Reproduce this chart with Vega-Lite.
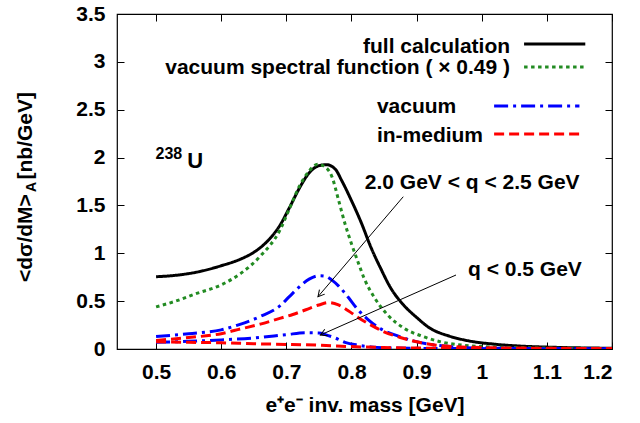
{
  "$schema": "https://vega.github.io/schema/vega-lite/v6.json",
  "width": 495,
  "height": 335,
  "autosize": "none",
  "padding": {"left": 117, "top": 14, "right": 28, "bottom": 74},
  "background": "white",
  "config": {
    "view": {"stroke": "black", "strokeWidth": 1.2},
    "font": "Liberation Sans",
    "axis": {
      "labelFont": "Liberation Sans", "labelFontSize": 21, "labelFontWeight": "bold", "labelColor": "black",
      "titleFont": "Liberation Sans", "titleFontSize": 21, "titleFontWeight": "bold", "titleColor": "black",
      "domain": false, "grid": false, "tickColor": "black", "tickSize": -7, "tickWidth": 1
    },
    "text": {"font": "Liberation Sans", "fontWeight": "bold", "fontSize": 21, "color": "black"}
  },
  "datasets": {
    "curves": [
      {"curve": "a_full", "series": "full", "m": 0.50, "s": 0.755},
      {"curve": "a_full", "series": "full", "m": 0.53, "s": 0.77},
      {"curve": "a_full", "series": "full", "m": 0.56, "s": 0.80},
      {"curve": "a_full", "series": "full", "m": 0.60, "s": 0.87},
      {"curve": "a_full", "series": "full", "m": 0.63, "s": 0.94},
      {"curve": "a_full", "series": "full", "m": 0.65, "s": 1.01},
      {"curve": "a_full", "series": "full", "m": 0.67, "s": 1.12},
      {"curve": "a_full", "series": "full", "m": 0.69, "s": 1.29},
      {"curve": "a_full", "series": "full", "m": 0.705, "s": 1.48},
      {"curve": "a_full", "series": "full", "m": 0.72, "s": 1.68},
      {"curve": "a_full", "series": "full", "m": 0.735, "s": 1.84},
      {"curve": "a_full", "series": "full", "m": 0.75, "s": 1.915},
      {"curve": "a_full", "series": "full", "m": 0.762, "s": 1.925},
      {"curve": "a_full", "series": "full", "m": 0.775, "s": 1.88},
      {"curve": "a_full", "series": "full", "m": 0.785, "s": 1.76},
      {"curve": "a_full", "series": "full", "m": 0.80, "s": 1.55},
      {"curve": "a_full", "series": "full", "m": 0.815, "s": 1.32},
      {"curve": "a_full", "series": "full", "m": 0.83, "s": 1.06},
      {"curve": "a_full", "series": "full", "m": 0.845, "s": 0.84},
      {"curve": "a_full", "series": "full", "m": 0.86, "s": 0.64},
      {"curve": "a_full", "series": "full", "m": 0.88, "s": 0.46},
      {"curve": "a_full", "series": "full", "m": 0.90, "s": 0.33},
      {"curve": "a_full", "series": "full", "m": 0.92, "s": 0.22},
      {"curve": "a_full", "series": "full", "m": 0.95, "s": 0.135},
      {"curve": "a_full", "series": "full", "m": 0.98, "s": 0.085},
      {"curve": "a_full", "series": "full", "m": 1.02, "s": 0.05},
      {"curve": "a_full", "series": "full", "m": 1.06, "s": 0.03},
      {"curve": "a_full", "series": "full", "m": 1.10, "s": 0.02},
      {"curve": "a_full", "series": "full", "m": 1.15, "s": 0.012},
      {"curve": "a_full", "series": "full", "m": 1.20, "s": 0.008},

      {"curve": "b_spec", "series": "spectral", "m": 0.50, "s": 0.44},
      {"curve": "b_spec", "series": "spectral", "m": 0.53, "s": 0.50},
      {"curve": "b_spec", "series": "spectral", "m": 0.56, "s": 0.575},
      {"curve": "b_spec", "series": "spectral", "m": 0.60, "s": 0.67},
      {"curve": "b_spec", "series": "spectral", "m": 0.63, "s": 0.79},
      {"curve": "b_spec", "series": "spectral", "m": 0.66, "s": 0.97},
      {"curve": "b_spec", "series": "spectral", "m": 0.69, "s": 1.24},
      {"curve": "b_spec", "series": "spectral", "m": 0.705, "s": 1.47},
      {"curve": "b_spec", "series": "spectral", "m": 0.72, "s": 1.70},
      {"curve": "b_spec", "series": "spectral", "m": 0.735, "s": 1.86},
      {"curve": "b_spec", "series": "spectral", "m": 0.748, "s": 1.93},
      {"curve": "b_spec", "series": "spectral", "m": 0.76, "s": 1.90},
      {"curve": "b_spec", "series": "spectral", "m": 0.77, "s": 1.80},
      {"curve": "b_spec", "series": "spectral", "m": 0.78, "s": 1.56},
      {"curve": "b_spec", "series": "spectral", "m": 0.79, "s": 1.31},
      {"curve": "b_spec", "series": "spectral", "m": 0.80, "s": 1.10},
      {"curve": "b_spec", "series": "spectral", "m": 0.81, "s": 0.91},
      {"curve": "b_spec", "series": "spectral", "m": 0.82, "s": 0.73},
      {"curve": "b_spec", "series": "spectral", "m": 0.835, "s": 0.54},
      {"curve": "b_spec", "series": "spectral", "m": 0.855, "s": 0.36},
      {"curve": "b_spec", "series": "spectral", "m": 0.88, "s": 0.22},
      {"curve": "b_spec", "series": "spectral", "m": 0.91, "s": 0.13},
      {"curve": "b_spec", "series": "spectral", "m": 0.94, "s": 0.07},
      {"curve": "b_spec", "series": "spectral", "m": 0.97, "s": 0.04},
      {"curve": "b_spec", "series": "spectral", "m": 1.00, "s": 0.025},
      {"curve": "b_spec", "series": "spectral", "m": 1.05, "s": 0.015},
      {"curve": "b_spec", "series": "spectral", "m": 1.10, "s": 0.01},
      {"curve": "b_spec", "series": "spectral", "m": 1.20, "s": 0.005},

      {"curve": "c_vac_hi", "series": "vacuum", "m": 0.50, "s": 0.13},
      {"curve": "c_vac_hi", "series": "vacuum", "m": 0.55, "s": 0.16},
      {"curve": "c_vac_hi", "series": "vacuum", "m": 0.60, "s": 0.20},
      {"curve": "c_vac_hi", "series": "vacuum", "m": 0.63, "s": 0.26},
      {"curve": "c_vac_hi", "series": "vacuum", "m": 0.66, "s": 0.34},
      {"curve": "c_vac_hi", "series": "vacuum", "m": 0.69, "s": 0.45},
      {"curve": "c_vac_hi", "series": "vacuum", "m": 0.705, "s": 0.55},
      {"curve": "c_vac_hi", "series": "vacuum", "m": 0.72, "s": 0.65},
      {"curve": "c_vac_hi", "series": "vacuum", "m": 0.735, "s": 0.73},
      {"curve": "c_vac_hi", "series": "vacuum", "m": 0.75, "s": 0.765},
      {"curve": "c_vac_hi", "series": "vacuum", "m": 0.76, "s": 0.76},
      {"curve": "c_vac_hi", "series": "vacuum", "m": 0.77, "s": 0.72},
      {"curve": "c_vac_hi", "series": "vacuum", "m": 0.78, "s": 0.66},
      {"curve": "c_vac_hi", "series": "vacuum", "m": 0.795, "s": 0.54},
      {"curve": "c_vac_hi", "series": "vacuum", "m": 0.81, "s": 0.41},
      {"curve": "c_vac_hi", "series": "vacuum", "m": 0.825, "s": 0.31},
      {"curve": "c_vac_hi", "series": "vacuum", "m": 0.845, "s": 0.21},
      {"curve": "c_vac_hi", "series": "vacuum", "m": 0.87, "s": 0.14},
      {"curve": "c_vac_hi", "series": "vacuum", "m": 0.895, "s": 0.085},
      {"curve": "c_vac_hi", "series": "vacuum", "m": 0.92, "s": 0.05},
      {"curve": "c_vac_hi", "series": "vacuum", "m": 0.95, "s": 0.025},
      {"curve": "c_vac_hi", "series": "vacuum", "m": 1.00, "s": 0.01},
      {"curve": "c_vac_hi", "series": "vacuum", "m": 1.10, "s": 0.005},
      {"curve": "c_vac_hi", "series": "vacuum", "m": 1.20, "s": 0.003},

      {"curve": "c_vac_lo", "series": "vacuum", "m": 0.50, "s": 0.07},
      {"curve": "c_vac_lo", "series": "vacuum", "m": 0.55, "s": 0.08},
      {"curve": "c_vac_lo", "series": "vacuum", "m": 0.60, "s": 0.095},
      {"curve": "c_vac_lo", "series": "vacuum", "m": 0.65, "s": 0.115},
      {"curve": "c_vac_lo", "series": "vacuum", "m": 0.70, "s": 0.15},
      {"curve": "c_vac_lo", "series": "vacuum", "m": 0.73, "s": 0.17},
      {"curve": "c_vac_lo", "series": "vacuum", "m": 0.75, "s": 0.168},
      {"curve": "c_vac_lo", "series": "vacuum", "m": 0.76, "s": 0.15},
      {"curve": "c_vac_lo", "series": "vacuum", "m": 0.775, "s": 0.115},
      {"curve": "c_vac_lo", "series": "vacuum", "m": 0.79, "s": 0.07},
      {"curve": "c_vac_lo", "series": "vacuum", "m": 0.81, "s": 0.04},
      {"curve": "c_vac_lo", "series": "vacuum", "m": 0.83, "s": 0.022},
      {"curve": "c_vac_lo", "series": "vacuum", "m": 0.87, "s": 0.01},
      {"curve": "c_vac_lo", "series": "vacuum", "m": 0.95, "s": 0.005},
      {"curve": "c_vac_lo", "series": "vacuum", "m": 1.20, "s": 0.002},

      {"curve": "d_med_hi", "series": "in-medium", "m": 0.50, "s": 0.09},
      {"curve": "d_med_hi", "series": "in-medium", "m": 0.55, "s": 0.12},
      {"curve": "d_med_hi", "series": "in-medium", "m": 0.60, "s": 0.16},
      {"curve": "d_med_hi", "series": "in-medium", "m": 0.63, "s": 0.21},
      {"curve": "d_med_hi", "series": "in-medium", "m": 0.66, "s": 0.26},
      {"curve": "d_med_hi", "series": "in-medium", "m": 0.69, "s": 0.32},
      {"curve": "d_med_hi", "series": "in-medium", "m": 0.71, "s": 0.36},
      {"curve": "d_med_hi", "series": "in-medium", "m": 0.73, "s": 0.41},
      {"curve": "d_med_hi", "series": "in-medium", "m": 0.75, "s": 0.46},
      {"curve": "d_med_hi", "series": "in-medium", "m": 0.765, "s": 0.485},
      {"curve": "d_med_hi", "series": "in-medium", "m": 0.78, "s": 0.46},
      {"curve": "d_med_hi", "series": "in-medium", "m": 0.795, "s": 0.40},
      {"curve": "d_med_hi", "series": "in-medium", "m": 0.81, "s": 0.33},
      {"curve": "d_med_hi", "series": "in-medium", "m": 0.83, "s": 0.25},
      {"curve": "d_med_hi", "series": "in-medium", "m": 0.85, "s": 0.18},
      {"curve": "d_med_hi", "series": "in-medium", "m": 0.875, "s": 0.12},
      {"curve": "d_med_hi", "series": "in-medium", "m": 0.90, "s": 0.075},
      {"curve": "d_med_hi", "series": "in-medium", "m": 0.93, "s": 0.04},
      {"curve": "d_med_hi", "series": "in-medium", "m": 0.96, "s": 0.025},
      {"curve": "d_med_hi", "series": "in-medium", "m": 1.00, "s": 0.015},
      {"curve": "d_med_hi", "series": "in-medium", "m": 1.10, "s": 0.008},
      {"curve": "d_med_hi", "series": "in-medium", "m": 1.20, "s": 0.005},

      {"curve": "d_med_lo", "series": "in-medium", "m": 0.50, "s": 0.075},
      {"curve": "d_med_lo", "series": "in-medium", "m": 0.55, "s": 0.07},
      {"curve": "d_med_lo", "series": "in-medium", "m": 0.60, "s": 0.065},
      {"curve": "d_med_lo", "series": "in-medium", "m": 0.65, "s": 0.055},
      {"curve": "d_med_lo", "series": "in-medium", "m": 0.70, "s": 0.048},
      {"curve": "d_med_lo", "series": "in-medium", "m": 0.75, "s": 0.04},
      {"curve": "d_med_lo", "series": "in-medium", "m": 0.80, "s": 0.025},
      {"curve": "d_med_lo", "series": "in-medium", "m": 0.85, "s": 0.015},
      {"curve": "d_med_lo", "series": "in-medium", "m": 0.90, "s": 0.01},
      {"curve": "d_med_lo", "series": "in-medium", "m": 1.00, "s": 0.006},
      {"curve": "d_med_lo", "series": "in-medium", "m": 1.20, "s": 0.003}
    ],
    "legend": [
      {"series": "full", "label": "full calculation", "block": 1, "tx": 1.0435, "ty": 3.096, "x1": 1.065, "x2": 1.159, "ly": 3.187},
      {"series": "spectral", "label": "vacuum spectral function ( × 0.49 )", "block": 1, "tx": 1.0435, "ty": 2.87, "x1": 1.065, "x2": 1.159, "ly": 2.947},
      {"series": "vacuum", "label": "vacuum", "block": 2, "tx": 0.839, "ty": 2.463, "x1": 1.019, "x2": 1.150, "ly": 2.539},
      {"series": "in-medium", "label": "in-medium", "block": 2, "tx": 0.839, "ty": 2.166, "x1": 1.019, "x2": 1.150, "ly": 2.247}
    ],
    "notes": [
      {"label": "2.0 GeV < q < 2.5 GeV", "x": 0.8205, "y": 1.67},
      {"label": "q < 0.5 GeV", "x": 0.979, "y": 0.767}
    ],
    "arrows": [
      {"id": 1, "x": 0.8795, "y": 1.591, "x2": 0.7486, "y2": 0.5465},
      {"id": 2, "x": 0.9605, "y": 0.773, "x2": 0.7523, "y2": 0.146}
    ],
    "ytitle": [
      {"part": "main", "text": "<dσ/dM>", "x": 0.3089, "y": 0.70},
      {"part": "sub", "text": "A", "x": 0.3158, "y": 1.64},
      {"part": "unit", "text": "[nb/GeV]", "x": 0.3089, "y": 2.685}
    ]
  },
  "layer": [
    {
      "data": {"name": "curves"},
      "mark": {"type": "line", "strokeWidth": 3, "strokeCap": "butt", "clip": true, "interpolate": "monotone"},
      "encoding": {
        "x": {"field": "m", "type": "quantitative", "scale": {"domain": [0.44, 1.2], "nice": false, "zero": false},
              "axis": {"orient": "bottom", "values": [0.5, 0.6, 0.7, 0.8, 0.9, 1.0, 1.1, 1.2], "format": "~g", "labelPadding": 19, "title": "e⁺e⁻ inv. mass [GeV]", "titlePadding": 12}},
        "y": {"field": "s", "type": "quantitative", "scale": {"domain": [0, 3.5], "nice": false, "zero": false},
              "axis": {"orient": "left", "values": [0, 0.5, 1, 1.5, 2, 2.5, 3, 3.5], "format": "~g", "labelPadding": 19, "title": null}},
        "detail": {"field": "curve"},
        "color": {"field": "series", "type": "nominal", "scale": {"domain": ["full", "spectral", "vacuum", "in-medium"], "range": ["#000000", "#228B22", "#0000FF", "#FF0000"]}, "legend": null},
        "strokeDash": {"field": "series", "type": "nominal", "scale": {"domain": ["full", "spectral", "vacuum", "in-medium"], "range": [[1, 0], [3.5, 3.5], [14, 5, 3, 5], [10, 5]]}, "legend": null},
        "order": {"field": "m", "type": "quantitative"}
      }
    },
    {
      "data": {"name": "arrows"},
      "mark": {"type": "rule", "color": "black", "strokeWidth": 1},
      "encoding": {
        "x": {"field": "x", "type": "quantitative", "scale": {"domain": [0.44, 1.2], "nice": false, "zero": false},
              "axis": {"orient": "top", "values": [0.5, 0.6, 0.7, 0.8, 0.9, 1.0, 1.1, 1.2], "labels": false, "title": null}},
        "y": {"field": "y", "type": "quantitative", "scale": {"domain": [0, 3.5], "nice": false, "zero": false},
              "axis": {"orient": "right", "values": [0, 0.5, 1, 1.5, 2, 2.5, 3, 3.5], "labels": false, "title": null}},
        "x2": {"field": "x2"},
        "y2": {"field": "y2"}
      }
    },
    {
      "data": {"name": "arrows"},
      "transform": [{"filter": "datum.id == 1"}],
      "mark": {"type": "point", "shape": "M -1 -0.55 L 0 0 L -1 0.55", "filled": false, "stroke": "black", "strokeWidth": 1, "size": 160, "angle": 130.4, "opacity": 1},
      "encoding": {
        "x": {"field": "x2", "type": "quantitative", "scale": {"domain": [0.44, 1.2], "nice": false, "zero": false}, "axis": null},
        "y": {"field": "y2", "type": "quantitative", "scale": {"domain": [0, 3.5], "nice": false, "zero": false}, "axis": null}
      }
    },
    {
      "data": {"name": "arrows"},
      "transform": [{"filter": "datum.id == 2"}],
      "mark": {"type": "point", "shape": "M -1 -0.55 L 0 0 L -1 0.55", "filled": false, "stroke": "black", "strokeWidth": 1, "size": 160, "angle": 156.1, "opacity": 1},
      "encoding": {
        "x": {"field": "x2", "type": "quantitative", "scale": {"domain": [0.44, 1.2], "nice": false, "zero": false}, "axis": null},
        "y": {"field": "y2", "type": "quantitative", "scale": {"domain": [0, 3.5], "nice": false, "zero": false}, "axis": null}
      }
    },
    {
      "data": {"name": "legend"},
      "mark": {"type": "rule", "strokeWidth": 3, "strokeCap": "butt"},
      "encoding": {
        "x": {"field": "x1", "type": "quantitative", "scale": {"domain": [0.44, 1.2], "nice": false, "zero": false}, "axis": null},
        "x2": {"field": "x2"},
        "y": {"field": "ly", "type": "quantitative", "scale": {"domain": [0, 3.5], "nice": false, "zero": false}, "axis": null},
        "color": {"field": "series", "type": "nominal", "scale": {"domain": ["full", "spectral", "vacuum", "in-medium"], "range": ["#000000", "#228B22", "#0000FF", "#FF0000"]}, "legend": null},
        "strokeDash": {"field": "series", "type": "nominal", "scale": {"domain": ["full", "spectral", "vacuum", "in-medium"], "range": [[1, 0], [3.5, 3.5], [14, 5, 3, 5], [10, 5]]}, "legend": null}
      }
    },
    {
      "data": {"name": "legend"},
      "transform": [{"filter": "datum.block == 1"}],
      "mark": {"type": "text", "align": "right", "baseline": "alphabetic"},
      "encoding": {
        "x": {"field": "tx", "type": "quantitative", "scale": {"domain": [0.44, 1.2], "nice": false, "zero": false}, "axis": null},
        "y": {"field": "ty", "type": "quantitative", "scale": {"domain": [0, 3.5], "nice": false, "zero": false}, "axis": null},
        "text": {"field": "label"}
      }
    },
    {
      "data": {"name": "legend"},
      "transform": [{"filter": "datum.block == 2"}],
      "mark": {"type": "text", "align": "left", "baseline": "alphabetic"},
      "encoding": {
        "x": {"field": "tx", "type": "quantitative", "scale": {"domain": [0.44, 1.2], "nice": false, "zero": false}, "axis": null},
        "y": {"field": "ty", "type": "quantitative", "scale": {"domain": [0, 3.5], "nice": false, "zero": false}, "axis": null},
        "text": {"field": "label"}
      }
    },
    {
      "data": {"name": "notes"},
      "mark": {"type": "text", "align": "left", "baseline": "alphabetic"},
      "encoding": {
        "x": {"field": "x", "type": "quantitative", "scale": {"domain": [0.44, 1.2], "nice": false, "zero": false}, "axis": null},
        "y": {"field": "y", "type": "quantitative", "scale": {"domain": [0, 3.5], "nice": false, "zero": false}, "axis": null},
        "text": {"field": "label"}
      }
    },
    {
      "data": {"values": [{"t": "238", "x": 0.4992, "y": 1.985}]},
      "mark": {"type": "text", "align": "left", "baseline": "alphabetic", "fontSize": 16},
      "encoding": {
        "x": {"field": "x", "type": "quantitative", "scale": {"domain": [0.44, 1.2], "nice": false, "zero": false}, "axis": null},
        "y": {"field": "y", "type": "quantitative", "scale": {"domain": [0, 3.5], "nice": false, "zero": false}, "axis": null},
        "text": {"field": "t"}
      }
    },
    {
      "data": {"values": [{"t": "U", "x": 0.548, "y": 1.888}]},
      "mark": {"type": "text", "align": "left", "baseline": "alphabetic", "fontSize": 22},
      "encoding": {
        "x": {"field": "x", "type": "quantitative", "scale": {"domain": [0.44, 1.2], "nice": false, "zero": false}, "axis": null},
        "y": {"field": "y", "type": "quantitative", "scale": {"domain": [0, 3.5], "nice": false, "zero": false}, "axis": null},
        "text": {"field": "t"}
      }
    },
    {
      "data": {"name": "ytitle"},
      "transform": [{"filter": "datum.part == 'main'"}],
      "mark": {"type": "text", "align": "left", "baseline": "alphabetic", "angle": 270, "fontSize": 21},
      "encoding": {
        "x": {"field": "x", "type": "quantitative", "scale": {"domain": [0.44, 1.2], "nice": false, "zero": false}, "axis": null},
        "y": {"field": "y", "type": "quantitative", "scale": {"domain": [0, 3.5], "nice": false, "zero": false}, "axis": null},
        "text": {"field": "text"}
      }
    },
    {
      "data": {"name": "ytitle"},
      "transform": [{"filter": "datum.part == 'sub'"}],
      "mark": {"type": "text", "align": "left", "baseline": "alphabetic", "angle": 270, "fontSize": 14},
      "encoding": {
        "x": {"field": "x", "type": "quantitative", "scale": {"domain": [0.44, 1.2], "nice": false, "zero": false}, "axis": null},
        "y": {"field": "y", "type": "quantitative", "scale": {"domain": [0, 3.5], "nice": false, "zero": false}, "axis": null},
        "text": {"field": "text"}
      }
    },
    {
      "data": {"name": "ytitle"},
      "transform": [{"filter": "datum.part == 'unit'"}],
      "mark": {"type": "text", "align": "right", "baseline": "alphabetic", "angle": 270, "fontSize": 21},
      "encoding": {
        "x": {"field": "x", "type": "quantitative", "scale": {"domain": [0.44, 1.2], "nice": false, "zero": false}, "axis": null},
        "y": {"field": "y", "type": "quantitative", "scale": {"domain": [0, 3.5], "nice": false, "zero": false}, "axis": null},
        "text": {"field": "text"}
      }
    }
  ],
  "resolve": {"axis": {"x": "independent", "y": "independent"}}
}
